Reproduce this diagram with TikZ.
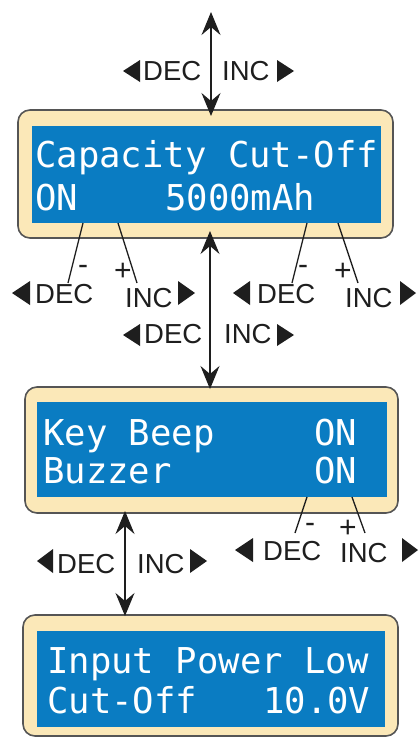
\documentclass[tikz,border=0pt]{standalone}
\usepackage{fontspec}
\setmainfont{Liberation Sans}
\newfontfamily\lcdfont{DejaVu Sans Mono}
\usetikzlibrary{arrows.meta}
\definecolor{cream}{HTML}{FBE8B8}
\definecolor{lcdblue}{HTML}{0A7CC2}
\definecolor{framegray}{HTML}{555555}
\definecolor{ink}{HTML}{1E1E1E}
\tikzset{
  frame/.style={draw=framegray,line width=1.6pt,fill=cream,rounded corners=12pt,inner sep=0pt},
  screen/.style={fill=lcdblue,inner sep=0pt},
  lcd/.style={text=white,font=\lcdfont\fontsize{35.6}{40}\selectfont,anchor=base west,inner sep=0pt},
  lbl/.style={text=ink,font=\fontsize{27.5}{30}\selectfont,anchor=base west,inner sep=0pt},
  sign/.style={text=ink,font=\fontsize{30}{32}\selectfont,inner sep=0pt},
  lead/.style={draw=ink,line width=1.3pt},
  dblarrow/.style={draw=ink,line width=1.2pt,{Stealth[length=23pt,width=19pt,inset=8pt]}-{Stealth[length=23pt,width=19pt,inset=8pt]}},
  tri/.style={fill=ink}
}
\begin{document}
\begin{tikzpicture}[x=1pt,y=-1pt]
\useasboundingbox (0,0) rectangle (419,739);
% panels
\node[frame,minimum width=375pt,minimum height=128pt] (p1) at (205.5,174) {};
\node[screen,minimum width=349pt,minimum height=97pt] (s1) at (206.5,174.5) {};
\node[frame,minimum width=373pt,minimum height=126pt] (p2) at (211.5,450) {};
\node[screen,minimum width=350pt,minimum height=95pt] (s2) at (212,449.5) {};
\node[frame,minimum width=375pt,minimum height=121pt] (p3) at (210.5,675.5) {};
\node[screen,minimum width=348pt,minimum height=96pt] (s3) at (211,679) {};
% LCD text
\node[lcd] (t11) at (35,167) {Capacity Cut-Off};
\node[lcd] (t12) at (35,210) {ON};
\node[lcd] (t13) at (165,210) {5000mAh};
\node[lcd] (t21) at (43,445) {Key Beep};
\node[lcd] (t22) at (314,445) {ON};
\node[lcd] (t23) at (43,483) {Buzzer};
\node[lcd] (t24) at (314,483) {ON};
\node[lcd] (t31) at (47,673) {Input Power Low};
\node[lcd] (t32) at (47,713) {Cut-Off};
\node[lcd] (t33) at (263,713) {10.0V};
% vertical arrows
\coordinate (a1top) at (211,12);
\coordinate (a1bot) at (211,116);
\draw[dblarrow] (a1top) -- (a1bot);
\coordinate (a2top) at (210,231);
\coordinate (a2bot) at (210,389);
\draw[dblarrow] (a2top) -- (a2bot);
\coordinate (a3top) at (125,511);
\coordinate (a3bot) at (125,616);
\draw[dblarrow] (a3top) -- (a3bot);
% top labels
\node[lbl] (d1) at (143,80) {DEC};
\node[lbl] (i1) at (222,80) {INC};
\fill[tri] (140,60) -- (123,71) -- (140,82) -- cycle;
\fill[tri] (277,60) -- (294,71) -- (277,82) -- cycle;
% middle labels
\node[lbl] (d2) at (144,343) {DEC};
\node[lbl] (i2) at (224,343) {INC};
\fill[tri] (140,324) -- (123,335) -- (140,346) -- cycle;
\fill[tri] (277,324) -- (294,335) -- (277,346) -- cycle;
% bottom-left labels
\node[lbl] (d3) at (57,573) {DEC};
\node[lbl] (i3) at (137,573) {INC};
\fill[tri] (53,549) -- (37,561) -- (53,573) -- cycle;
\fill[tri] (190,549) -- (207,561) -- (190,573) -- cycle;
% panel 1 left group
\coordinate (l1a) at (83,223); \coordinate (l1b) at (68,283);
\coordinate (l2a) at (118,223); \coordinate (l2b) at (137,283);
\draw[lead] (l1a) -- (l1b);
\draw[lead] (l2a) -- (l2b);
\node[sign] (m1) at (83,270) {-};
\node[sign] (pl1) at (123,272) {+};
\node[lbl] (d4) at (35,303) {DEC};
\node[lbl] (i4) at (125,307) {INC};
\fill[tri] (30,281) -- (12,293) -- (30,305) -- cycle;
\fill[tri] (178,281) -- (195,293) -- (178,305) -- cycle;
% panel 1 right group
\coordinate (l3a) at (307,223); \coordinate (l3b) at (292,283);
\coordinate (l4a) at (338,223); \coordinate (l4b) at (358,283);
\draw[lead] (l3a) -- (l3b);
\draw[lead] (l4a) -- (l4b);
\node[sign] (m2) at (303,270) {-};
\node[sign] (pl2) at (343,272) {+};
\node[lbl] (d5) at (257,303) {DEC};
\node[lbl] (i5) at (345,307) {INC};
\fill[tri] (250,281) -- (233,293) -- (250,305) -- cycle;
\fill[tri] (400,281) -- (416,293) -- (400,305) -- cycle;
% panel 2 right group
\coordinate (l5a) at (307,497); \coordinate (l5b) at (295,533);
\coordinate (l6a) at (352,497); \coordinate (l6b) at (365,533);
\draw[lead] (l5a) -- (l5b);
\draw[lead] (l6a) -- (l6b);
\node[sign] (m3) at (310,528) {-};
\node[sign] (pl3) at (348,529) {+};
\node[lbl] (d6) at (263,560) {DEC};
\node[lbl] (i6) at (340,562) {INC};
\fill[tri] (253,538) -- (235,550) -- (253,562) -- cycle;
\fill[tri] (402,538) -- (418,550) -- (402,562) -- cycle;
\end{tikzpicture}
\end{document}
